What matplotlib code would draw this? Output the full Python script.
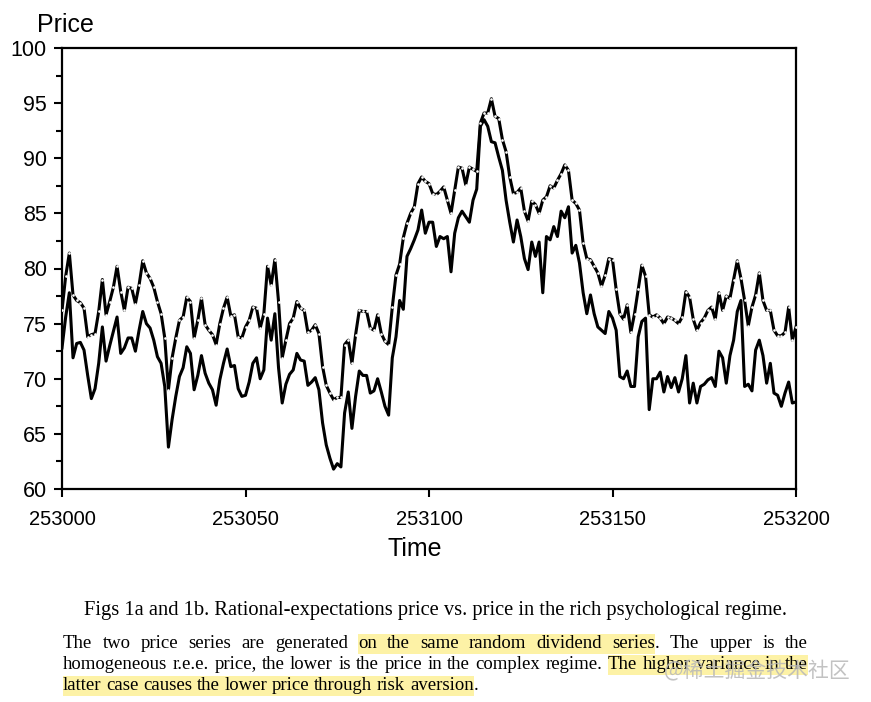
import re
import numpy as np
import matplotlib
matplotlib.use("Agg")
import matplotlib.pyplot as plt
from matplotlib.patches import Rectangle

W, H = 871, 702

# ── data ─────────────────────────────────────────────────────
t0 = 253000
upper = [
    76.2, 79.3, 81.4, 77.6, 77.1, 76.9, 76.4, 73.8, 74.0, 74.1,
    76.1, 79.0, 75.8, 77.0, 78.3, 80.2, 77.9, 76.2, 78.3, 78.2,
    76.8, 78.5, 80.7, 79.6, 79.1, 78.3, 77.0, 75.9, 73.7, 69.0,
    71.9, 73.7, 75.3, 75.6, 77.4, 77.0, 73.7, 75.3, 77.3, 74.9,
    74.4, 74.0, 73.1, 75.0, 76.4, 77.4, 75.7, 75.8, 73.8, 73.7,
    74.7, 75.3, 76.5, 76.4, 74.6, 75.9, 80.2, 78.5, 80.8, 77.0,
    71.9, 73.5, 75.0, 75.5, 77.0, 76.4, 76.2, 74.2, 74.4, 74.9,
    74.1, 71.1, 69.4, 68.7, 68.1, 68.3, 68.3, 73.1, 73.5, 71.4,
    74.0, 76.2, 76.1, 76.1, 74.6, 74.4, 75.8, 74.1, 73.4, 73.1,
    76.5, 79.4, 80.4, 82.8, 84.1, 85.0, 85.6, 87.7, 88.3, 87.9,
    87.7, 86.8, 86.7, 87.0, 87.4, 86.2, 85.0, 87.1, 89.2, 89.1,
    87.6, 89.2, 89.0, 88.8, 93.2, 94.1, 94.1, 95.4, 93.8, 93.6,
    91.7, 90.6, 88.3, 86.8, 86.9, 87.3, 85.2, 84.3, 86.1, 85.8,
    85.0, 86.2, 86.5, 87.5, 87.3, 88.0, 88.6, 89.4, 88.9, 86.2,
    85.9, 85.3, 82.3, 80.9, 80.8, 80.2, 79.6, 78.4, 79.4, 80.9,
    80.8, 78.1, 75.9, 75.4, 76.7, 74.2, 75.9, 78.1, 80.3, 79.3,
    75.8, 75.6, 75.8, 75.5, 75.0, 75.6, 75.5, 75.3, 75.0, 75.6,
    77.9, 77.4, 75.4, 74.4, 75.1, 75.5, 76.2, 76.5, 75.4, 77.8,
    76.2, 77.5, 77.3, 79.0, 80.7, 79.1, 77.1, 74.8, 76.5, 77.6,
    79.6, 77.1, 76.2, 76.2, 74.4, 73.9, 73.9, 74.2, 76.5, 73.5,
    74.7,
]
lower = [
    72.8, 75.6, 77.8, 71.9, 73.2, 73.3, 72.6, 70.3, 68.2, 69.1,
    71.4, 74.7, 71.6, 73.0, 74.3, 75.6, 72.3, 72.8, 73.7, 73.7,
    72.5, 74.4, 76.1, 75.0, 74.6, 73.5, 72.0, 71.4, 69.3, 63.8,
    66.3, 68.4, 70.2, 71.0, 72.9, 72.3, 69.0, 70.3, 72.1, 70.5,
    69.6, 69.0, 67.6, 69.9, 71.4, 72.7, 71.1, 71.2, 69.1, 68.4,
    68.5, 69.7, 71.4, 71.9, 70.0, 70.8, 75.5, 73.5, 75.9, 71.0,
    67.8, 69.5, 70.4, 70.8, 72.3, 71.7, 71.6, 69.4, 69.7, 70.1,
    69.0, 66.0, 64.0, 62.8, 61.8, 62.3, 62.0, 66.9, 68.8, 65.5,
    68.4, 70.7, 70.3, 70.3, 68.7, 68.9, 70.0, 68.8, 67.5, 66.7,
    71.9, 73.8, 77.1, 76.3, 81.1, 81.8, 82.6, 83.5, 85.3, 83.2,
    84.2, 84.2, 82.0, 82.9, 82.7, 82.9, 79.7, 83.2, 84.6, 85.2,
    84.7, 84.2, 86.2, 87.2, 92.9, 93.5, 92.9, 91.5, 91.4, 90.1,
    88.9, 86.2, 84.2, 82.4, 84.4, 82.9, 80.9, 79.9, 82.4, 81.1,
    82.4, 77.8, 82.9, 82.6, 83.8, 82.9, 85.2, 84.6, 85.6, 81.4,
    82.1, 80.5, 77.8, 75.9, 77.6, 75.9, 74.7, 74.4, 74.1, 76.1,
    75.5, 74.4, 70.2, 70.0, 70.7, 69.3, 69.3, 73.8, 75.2, 75.5,
    67.2, 70.0, 70.0, 70.6, 68.8, 70.2, 69.2, 70.1, 68.8, 70.0,
    72.1, 67.8, 69.6, 67.8, 69.3, 69.5, 69.9, 70.1, 69.3, 72.5,
    71.9, 69.6, 72.1, 73.5, 76.1, 77.1, 69.3, 69.5, 68.9, 72.6,
    73.5, 72.1, 69.6, 71.4, 68.7, 68.5, 67.5, 68.7, 69.7, 67.8,
    67.9,
]
time = np.arange(t0, t0 + len(upper))

x_ticks = [253000, 253050, 253100, 253150, 253200]
y_ticks = [60, 65, 70, 75, 80, 85, 90, 95, 100]

caption = "Figs 1a and 1b. Rational-expectations price vs. price in the rich psychological regime."
para = [
    "The two price series are generated on the same random dividend series. The upper is the",
    "homogeneous r.e.e. price, the lower is the price in the complex regime. The higher variance in the",
    "latter case causes the lower price through risk aversion.",
]
marks = [
    "on the same random dividend series",
    "The higher variance in the",
    "latter case causes the lower price through risk aversion",
]

plt.rcParams["font.family"] = ["Liberation Sans", "DejaVu Sans"]


def fx(x):
    return x / W


def fy(y):
    return 1 - y / H


fig = plt.figure(figsize=(W / 100, H / 100), dpi=100)
fig.patch.set_facecolor("white")

# ── chart ────────────────────────────────────────────────────
ax = fig.add_axes([fx(62), fy(489), (796 - 62) / W, (489 - 48) / H])
ax.plot(time, lower, color="black", lw=2.2, zorder=3)
ax.plot(time, upper, color="black", lw=2.2, zorder=4,
        marker="o", ms=1.9, mfc="white", mec="white", mew=0)

ax.set_xlim(x_ticks[0], x_ticks[-1])
ax.set_ylim(y_ticks[0], y_ticks[-1])
ax.set_xticks(x_ticks)
ax.set_xticklabels([str(v) for v in x_ticks])
ax.set_yticks(y_ticks)
ax.set_yticklabels([str(v) for v in y_ticks])
ax.set_yticks(np.arange(62.5, 100, 5), minor=True)

ax.tick_params(axis="both", which="major", direction="out", length=6,
               width=1.5, colors="black")
ax.tick_params(axis="x", which="major", labelsize=14.5, pad=9)
ax.tick_params(axis="y", which="major", labelsize=15.5, pad=5)
ax.tick_params(axis="y", which="minor", direction="out", length=4, width=1.5)
for s in ax.spines.values():
    s.set_linewidth(1.6)

fig.text(fx(37), fy(32), "Price", fontsize=18, ha="left", va="baseline")
fig.text(fx(415), fy(556), "Time", fontsize=18, ha="center", va="baseline")

# ── caption & paragraph ──────────────────────────────────────
serif = ["Liberation Serif", "DejaVu Serif"]
fig.text(fx(435.5), fy(615), caption, fontsize=14.8, family=serif,
         ha="center", va="baseline")

r = fig.canvas.get_renderer()
fs = 13.5
left, right = 63, 808
baselines = [648, 669, 690]
space = 0.25 * fs * 100 / 72

for li, line in enumerate(para):
    hs = he = -1
    for m in marks:
        k = line.find(m)
        if k >= 0:
            hs, he = k, k + len(m)
    words = []
    for mo in re.finditer(r"\S+", line):
        s, e = mo.start(), mo.end()
        cuts = sorted(set([s, e] + [c for c in (hs, he) if s < c < e]))
        pieces = []
        for a, b in zip(cuts[:-1], cuts[1:]):
            t = fig.text(0, 0, line[a:b], fontsize=fs, family=serif,
                         va="baseline", ha="left")
            w = t.get_window_extent(r).width
            pieces.append([t, w, hs <= a and b <= he])
        words.append(pieces)
    total = sum(p[1] for wd in words for p in wd)
    last = li == len(para) - 1
    gap = space if last else (right - left - total) / (len(words) - 1)
    x = left
    hx0 = hx1 = None
    yb = baselines[li]
    for wd in words:
        for t, w, hl in wd:
            t.set_position((fx(x), fy(yb)))
            if hl:
                hx0 = x if hx0 is None else hx0
                hx1 = x + w
            x += w
        x += gap
    if hx0 is not None:
        fig.add_artist(Rectangle((fx(hx0), fy(yb + 6)), (hx1 - hx0) / W, 20 / H,
                                 transform=fig.transFigure, facecolor="#fdf2a6",
                                 edgecolor="none", zorder=0))

# watermark (sits over the paragraph in the source image too)
fig.text(fx(757), fy(671), "@稀土掘金技术社区", fontsize=15, color="#b8b8b8",
         alpha=0.85, ha="center", va="center",
         family=["Noto Sans CJK SC", "DejaVu Sans"])

fig.savefig("out.png", dpi=100)
